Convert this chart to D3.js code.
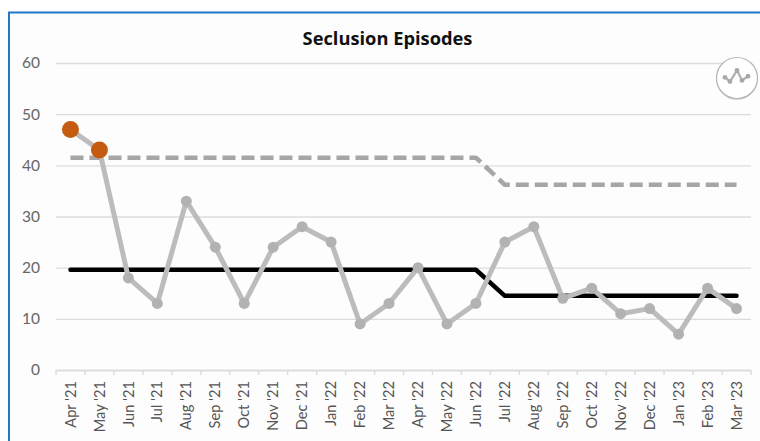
<!DOCTYPE html>
<html>
<head>
<meta charset="utf-8">
<script src="https://cdnjs.cloudflare.com/ajax/libs/d3/7.8.5/d3.min.js"></script>
<style>
html, body { margin: 0; padding: 0; background: #fff; }
svg { display: block; }
text { font-family: Lato, "Open Sans", sans-serif; }
</style>
</head>
<body>
<svg id="chart" width="760" height="441"></svg>
<script>
const months = ["Apr '21","May '21","Jun '21","Jul '21","Aug '21","Sep '21","Oct '21","Nov '21","Dec '21","Jan '22","Feb '22","Mar '22","Apr '22","May '22","Jun '22","Jul '22","Aug '22","Sep '22","Oct '22","Nov '22","Dec '22","Jan '23","Feb '23","Mar '23"];
const episodes = [47,43,18,13,33,24,13,24,28,25,9,13,20,9,13,25,28,14,16,11,12,7,16,12];
const meanLine = [19.6,19.6,19.6,19.6,19.6,19.6,19.6,19.6,19.6,19.6,19.6,19.6,19.6,19.6,19.6,14.5,14.5,14.5,14.5,14.5,14.5,14.5,14.5,14.5];
const upperLimit = [41.5,41.5,41.5,41.5,41.5,41.5,41.5,41.5,41.5,41.5,41.5,41.5,41.5,41.5,41.5,36.2,36.2,36.2,36.2,36.2,36.2,36.2,36.2,36.2];
const flagged = ["Apr '21","May '21"];
const yTicks = [0,10,20,30,40,50,60];
const badgeX = [0,5,12,17,23];
const badgeY = [2.2,1,4.2,1.3,2.5];
const chartTitle = "Seclusion Episodes";

const svg = d3.select("#chart");

// Panel with a blue edge along the top and left sides
svg.append("rect").attr("x", 9).attr("y", 12).attr("width", 751).attr("height", 429).attr("fill", "#fdfdfd");
svg.append("path").attr("d", "M9,441V12.5H760").attr("fill", "none").attr("stroke", "#1f78c8").attr("stroke-width", 2);

const x = d3.scaleBand().domain(months).range([56, 751]);
const y = d3.scaleLinear().domain([0, 60]).range([370, 63]);
const cx = m => x(m) + x.bandwidth() / 2;

// Horizontal gridlines and value labels
const yAxis = svg.append("g").attr("transform", "translate(56,0)")
  .call(d3.axisLeft(y).tickValues(yTicks).tickSize(-695).tickPadding(16));
yAxis.select(".domain").remove();
yAxis.selectAll("line").attr("stroke", "#dcdcdc").attr("stroke-width", 1.4);
yAxis.selectAll("text").attr("fill", "#666").style("font-size", "15.5px");

// Category axis with rotated month labels
const xAxis = svg.append("g").attr("transform", "translate(0,370)")
  .call(d3.axisBottom(x).tickSize(0));
xAxis.select(".domain").attr("stroke", "#dcdcdc").attr("stroke-width", 1.6);
xAxis.selectAll(".tick text")
  .attr("transform", "rotate(-90)")
  .attr("text-anchor", "end")
  .attr("x", -11).attr("y", 0).attr("dy", "0.35em")
  .attr("fill", "#555").style("font-size", "14.6px");
xAxis.selectAll(".sep").data(d3.range(months.length + 1)).join("line").attr("class", "sep")
  .attr("x1", i => x.range()[0] + i * x.step()).attr("x2", i => x.range()[0] + i * x.step())
  .attr("y1", 0).attr("y2", 5).attr("stroke", "#dcdcdc").attr("stroke-width", 1.4);

const line = d3.line().x((d, i) => cx(months[i])).y(d => y(d));

svg.append("path").datum(upperLimit).attr("d", line).attr("fill", "none")
  .attr("stroke", "#a6a6a6").attr("stroke-width", 4.5)
  .attr("stroke-dasharray", "13 6").attr("stroke-linejoin", "round");

svg.append("path").datum(meanLine).attr("d", line).attr("fill", "none")
  .attr("stroke", "#000").attr("stroke-width", 4.5).attr("stroke-linecap", "round").attr("stroke-linejoin", "round");

svg.append("path").datum(episodes).attr("d", line).attr("fill", "none")
  .attr("stroke", "#bcbcbc").attr("stroke-width", 5).attr("stroke-linejoin", "round");

svg.selectAll(".point").data(episodes).join("circle").attr("class", "point")
  .attr("cx", (d, i) => cx(months[i])).attr("cy", d => y(d))
  .attr("r", (d, i) => flagged.includes(months[i]) ? 8.5 : 5.5)
  .attr("fill", (d, i) => flagged.includes(months[i]) ? "#c55a11" : "#b2b2b2");

svg.append("text").attr("x", 387.5).attr("y", 45).attr("text-anchor", "middle")
  .attr("fill", "#111").style("font-family", "'Open Sans', sans-serif")
  .style("font-size", "18.3px").style("font-weight", 700).text(chartTitle);

// Round badge holding a tiny run-chart glyph
const badge = svg.append("g");
badge.append("circle").attr("cx", 737).attr("cy", 79).attr("r", 21).attr("fill", "#d6d6d6");
badge.append("circle").attr("cx", 737).attr("cy", 78).attr("r", 20.5)
  .attr("fill", "#fff").attr("stroke", "#b5b5b5").attr("stroke-width", 1.2);
const bx = d3.scaleLinear().domain([0, 23]).range([725, 748]);
const by = d3.scaleLinear().domain([0, 4]).range([85, 71]);
badge.append("path").datum(badgeY)
  .attr("d", d3.line().x((d, i) => bx(badgeX[i])).y(d => by(d)))
  .attr("fill", "none").attr("stroke", "#b0b0b0").attr("stroke-width", 2.2);
badge.selectAll(".dot").data(badgeY).join("circle").attr("class", "dot")
  .attr("cx", (d, i) => bx(badgeX[i])).attr("cy", d => by(d)).attr("r", 2.4).attr("fill", "#a9a9a9");
</script>
</body>
</html>
